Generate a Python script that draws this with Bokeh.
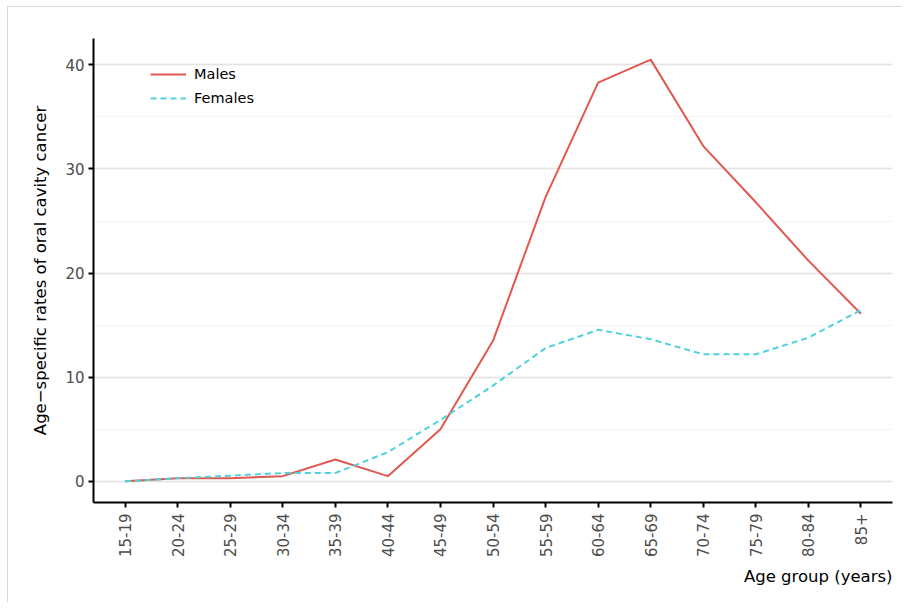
import math
from bokeh.plotting import figure
from bokeh.models import FactorRange, Range1d, SingleIntervalTicker, Legend, LegendItem, Title
from bokeh.embed import file_html
from bokeh.resources import INLINE

age_groups = ["15-19", "20-24", "25-29", "30-34", "35-39", "40-44", "45-49", "50-54",
              "55-59", "60-64", "65-69", "70-74", "75-79", "80-84", "85+"]
males = [0.0, 0.3, 0.3, 0.5, 2.1, 0.5, 5.0, 13.5, 27.3, 38.3, 40.5, 32.2, 26.8, 21.2, 16.1]
females = [0.0, 0.3, 0.55, 0.8, 0.8, 2.8, 5.9, 9.2, 12.8, 14.55, 13.65, 12.2, 12.2, 13.8, 16.45]

FONT = "DejaVu Sans"
RED = "#E0584F"
CYAN = "#4FD2DC"

p = figure(
    width=902, height=602,
    x_range=FactorRange(factors=age_groups, range_padding=0.1, range_padding_units="absolute"),
    y_range=Range1d(-2.03, 42.53),
    output_backend="svg", toolbar_location=None,
    min_border_left=93, min_border_right=10, min_border_top=38, min_border_bottom=100,
    styles={"background": "linear-gradient(#d9d9d9,#d9d9d9) 7px 6px / 1px 100% no-repeat, "
                          "linear-gradient(#d9d9d9,#d9d9d9) 7px 6px / 100% 1px no-repeat, white"},
)
p.outline_line_color = None
p.border_fill_color = None
p.background_fill_color = "white"

r_m = p.line(age_groups, males, line_color=RED, line_width=2)
r_f = p.line(age_groups, females, line_color=CYAN, line_width=2, line_dash="6 4")

# axes
p.yaxis.ticker = SingleIntervalTicker(interval=10, num_minor_ticks=2)
for ax in (p.xaxis[0], p.yaxis[0]):
    ax.axis_line_color = "black"
    ax.axis_line_width = 2
    ax.major_tick_line_color = "black"
    ax.major_tick_line_width = 2
    ax.major_tick_out = 5
    ax.major_tick_in = 0
    ax.minor_tick_line_color = None
    ax.major_label_text_font = FONT
    ax.major_label_text_font_size = "15px"
    ax.major_label_text_color = "#4d4d4d"
    ax.axis_label_text_font = FONT
    ax.axis_label_text_font_size = "16.5px"
    ax.axis_label_text_font_style = "normal"
    ax.axis_label_text_color = "black"

p.xaxis.major_label_orientation = math.pi / 2
p.xaxis.major_label_standoff = 6
p.yaxis.major_label_standoff = 4
p.yaxis.axis_label = "Age\u2212specific rates of oral cavity cancer"
p.yaxis.axis_label_standoff = 12

p.xgrid.grid_line_color = None
p.ygrid.grid_line_color = "#e3e3e3"
p.ygrid.grid_line_width = 1.5
p.ygrid.minor_grid_line_color = "#f6f6f6"
p.ygrid.minor_grid_line_width = 1.5

xt = Title(text="Age group (years)", align="right", text_font=FONT,
           text_font_size="16.5px", text_font_style="normal", text_color="black",
           standoff=8)
p.add_layout(xt, "below")

legend = Legend(items=[LegendItem(label="Males", renderers=[r_m]),
                       LegendItem(label="Females", renderers=[r_f])],
                location=(57, 392), padding=0, margin=0, spacing=0,
                glyph_width=36, glyph_height=24, label_height=24, label_standoff=8,
                label_text_font=FONT, label_text_font_size="14.5px", label_text_color="black",
                border_line_color=None, background_fill_alpha=0)
p.add_layout(legend)

open("out.html", "w").write(file_html(p, INLINE))
